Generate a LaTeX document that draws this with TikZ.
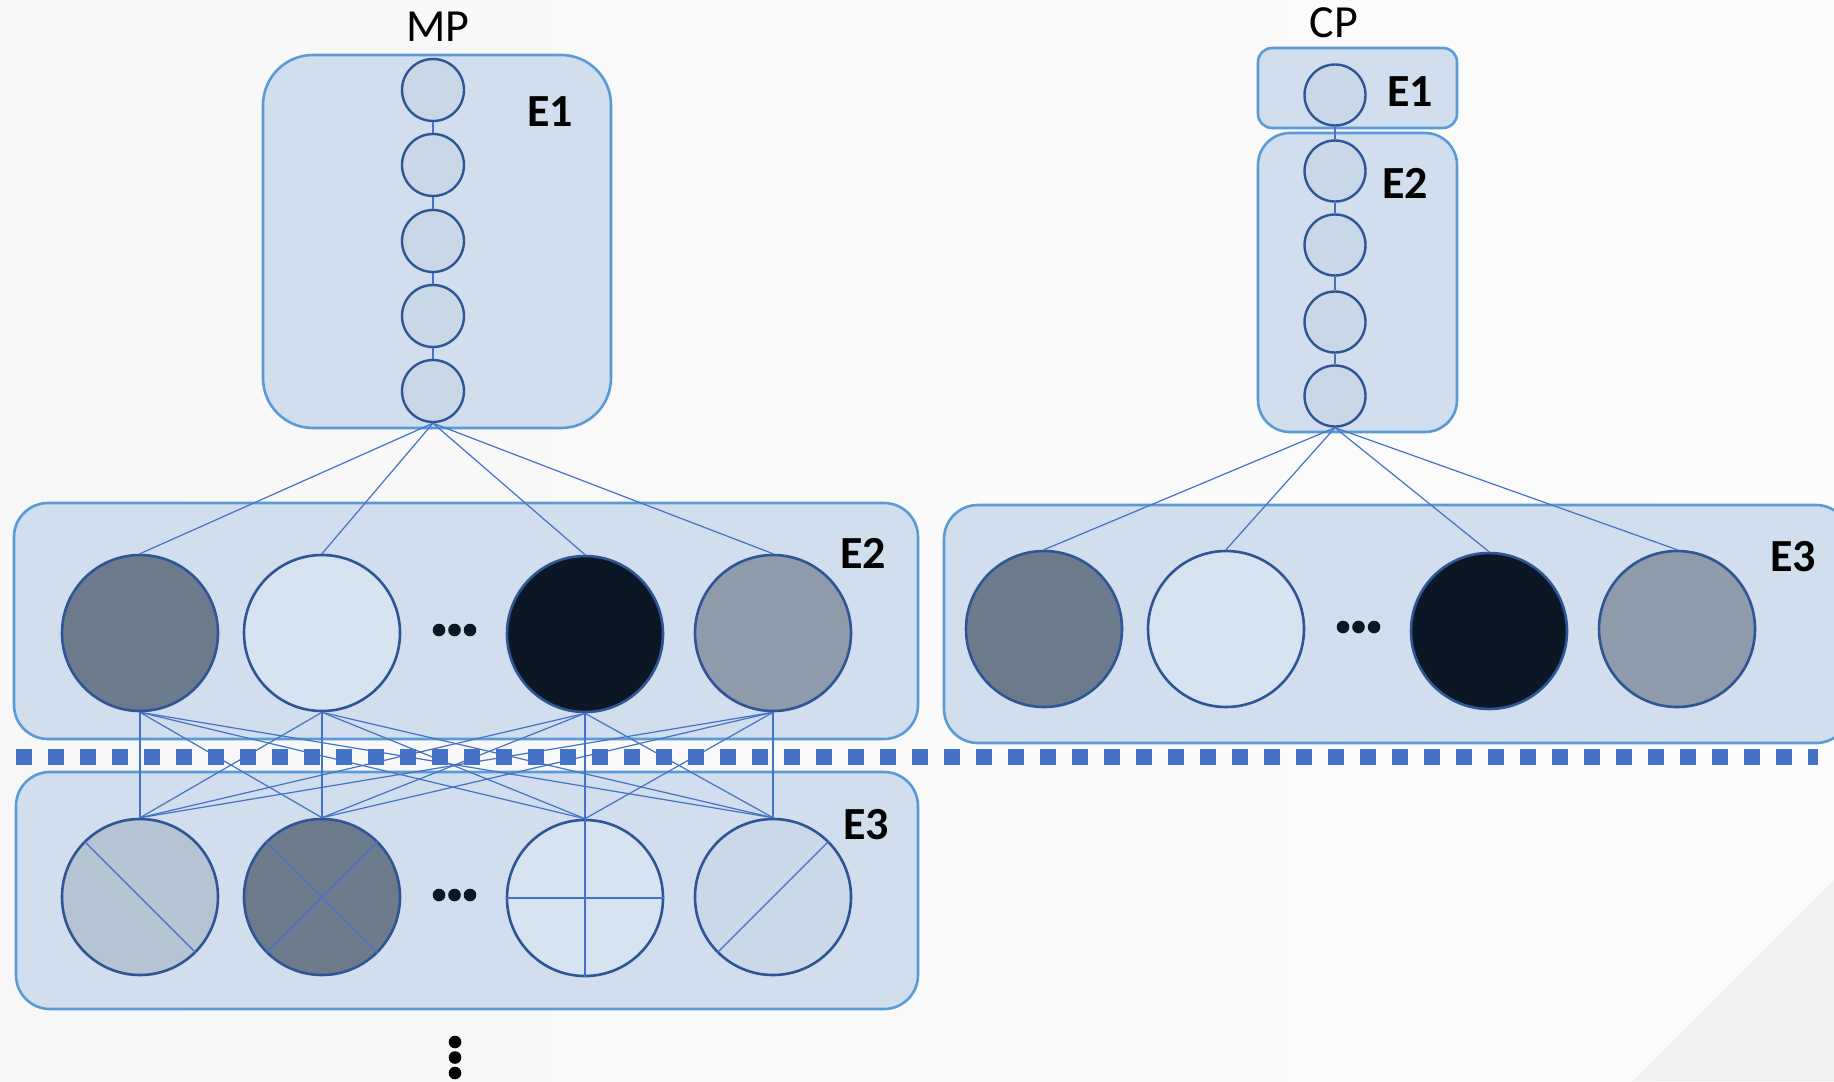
\documentclass[tikz,border=0pt]{standalone}
\usepackage{fontspec}
\setmainfont{Carlito}
\definecolor{boxfill}{HTML}{D0DEED}
\definecolor{boxline}{HTML}{5B9BD5}
\definecolor{circline}{HTML}{2F5597}
\definecolor{smallfill}{HTML}{C8D8E7}
\definecolor{connc}{HTML}{4472C4}
\definecolor{dotc}{HTML}{0B1724}
\definecolor{gA}{HTML}{6C7B8B}
\definecolor{gB}{HTML}{D6E3F1}
\definecolor{gC}{HTML}{0B1724}
\definecolor{gD}{HTML}{8D9BAA}
\definecolor{hA}{HTML}{B4C4D2}
\definecolor{hD}{HTML}{C9D9E7}
\definecolor{bgL}{HTML}{F7F7F7}
\definecolor{bgR}{HTML}{FCFCFC}
\definecolor{bgT}{HTML}{F1F1F1}
\begin{document}
\begin{tikzpicture}[x=0.5pt,y=-0.5pt,
  box/.style={rectangle, draw=boxline, fill=boxfill, line width=1.3pt, inner sep=0pt},
  small/.style={circle, draw=circline, fill=smallfill, line width=1.2pt, minimum size=31pt, inner sep=0pt},
  big/.style={circle, draw=circline, line width=1.3pt, minimum size=78pt, inner sep=0pt},
  conn/.style={draw=connc, line width=0.6pt},
  lbl/.style={font=\fontsize{23}{27}\selectfont\bfseries, inner sep=0pt},
  ttl/.style={font=\fontsize{23}{27}\selectfont, inner sep=0pt},
  dotn/.style={circle, fill=dotc, inner sep=0pt, minimum size=6.3pt},
]
\useasboundingbox (0,0) rectangle (1834,1081);
% background
\shade[left color=bgL, right color=bgR] (0,0) rectangle (1834,1081);
\fill[bgT] (1633,1081) -- (1834,880) -- (1834,1081) -- cycle;

% containers
\node[box, rounded corners=25pt, minimum width=174pt, minimum height=186.5pt] (mpE1) at (437,241.5) {};
\node[box, rounded corners=7pt, minimum width=99.5pt, minimum height=40pt] (cpE1) at (1357.5,88) {};
\node[box, rounded corners=16pt, minimum width=99.5pt, minimum height=149.5pt] (cpE2) at (1357.5,282.5) {};
\node[box, rounded corners=17pt, minimum width=452pt, minimum height=118pt] (mpE2) at (466,621) {};
\node[box, rounded corners=17pt, minimum width=451pt, minimum height=118.5pt] (mpE3) at (467,890.5) {};
\node[box, rounded corners=17pt, minimum width=453pt, minimum height=119pt] (cpE3) at (1397,624) {};

% dashed separator
\coordinate (dl) at (16,757);
\coordinate (dr) at (1818,757);
\draw[connc, line width=8pt, dash pattern=on 8pt off 8pt] (dl) -- (dr);

% titles and labels
\node[ttl] (mpT) at (438,27) {MP};
\node[ttl] (cpT) at (1334,23) {CP};
\node[lbl] (lmE1) at (550,112) {E1};
\node[lbl] (lcE1) at (1410,92) {E1};
\node[lbl] (lcE2) at (1405,183) {E2};
\node[lbl] (lmE2) at (863,553) {E2};
\node[lbl] (lmE3) at (866,825) {E3};
\node[lbl] (lcE3) at (1793,557) {E3};

% MP stack
\foreach \i/\y in {1/90,2/165,3/241,4/316,5/391}
  \node[small] (mp\i) at (433,\y) {};
\foreach \i/\j in {1/2,2/3,3/4,4/5}
  \draw[conn] (mp\i) -- (mp\j);

% CP stack
\node[small, minimum size=30.5pt] (cp1) at (1335,95) {};
\foreach \i/\y in {2/171,3/245,4/322,5/396}
  \node[small, minimum size=30.5pt] (cp\i) at (1335,\y) {};
\foreach \i/\j in {1/2,2/3,3/4,4/5}
  \draw[conn] (cp\i) -- (cp\j);

% MP E2 big circles
\node[big, fill=gA] (a1) at (140,633) {};
\node[big, fill=gB] (a2) at (322,633) {};
\node[big, fill=gC] (a3) at (585,634) {};
\node[big, fill=gD] (a4) at (773,633) {};

% MP E3 big circles
\node[big, fill=hA] (b1) at (140,897) {};
\node[big, fill=gA] (b2) at (322,897) {};
\node[big, fill=gB] (b3) at (585,898) {};
\node[big, fill=hD] (b4) at (773,897) {};

% CP E3 big circles
\node[big, fill=gA] (c1) at (1044,629) {};
\node[big, fill=gB] (c2) at (1226,629) {};
\node[big, fill=gC] (c3) at (1489,631) {};
\node[big, fill=gD] (c4) at (1677,629) {};

% fan connectors
\foreach \k in {1,...,4} {
  \draw[conn] (mp5.south) -- (a\k.north);
  \draw[conn] (cp5.south) -- (c\k.north);
}
\foreach \i in {1,...,4}
  \foreach \j in {1,...,4}
    \draw[conn] (a\i.south) -- (b\j.north);

% patterns inside E3 circles
\draw[conn] (b1.135) -- (b1.-45);
\draw[conn] (b2.135) -- (b2.-45);
\draw[conn] (b2.45) -- (b2.225);
\draw[conn] (b3.north) -- (b3.south);
\draw[conn] (b3.west) -- (b3.east);
\draw[conn] (b4.225) -- (b4.45);

% ellipses
\foreach \x [count=\n] in {439,454.5,470} {
  \node[dotn] (d1\n) at (\x,630) {};
  \node[dotn] (d2\n) at (\x,895) {};
  \node[dotn] (d3\n) at (\x+904,627) {};
}
\foreach \y [count=\n] in {1042,1057.5,1073}
  \node[dotn, fill=black] (v\n) at (455,\y) {};
\end{tikzpicture}
\end{document}
